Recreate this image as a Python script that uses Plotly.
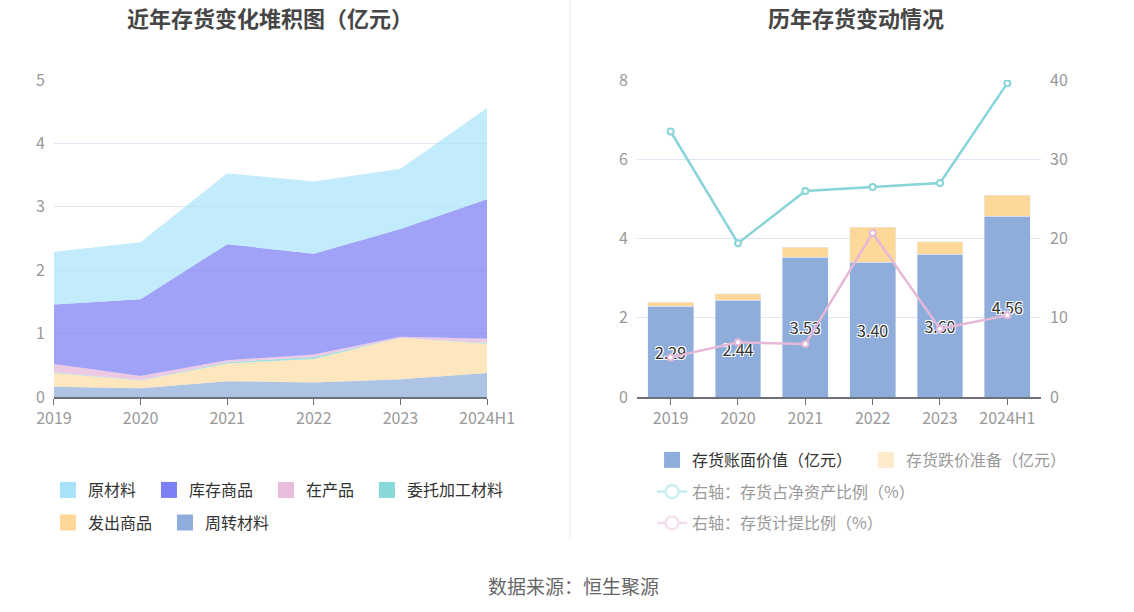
import plotly.graph_objects as go

# 数据
years = ['2019', '2020', '2021', '2022', '2023', '2024H1']

# 左图：存货构成（亿元），自下而上堆积
zhouzhuan = [0.16, 0.14, 0.25, 0.23, 0.28, 0.38]    # 周转材料
fachu = [0.22, 0.12, 0.28, 0.37, 0.65, 0.46]        # 发出商品
weituo = [0.01, 0.01, 0.02, 0.03, 0.00, 0.01]       # 委托加工材料
zaichan = [0.13, 0.06, 0.03, 0.04, 0.02, 0.07]      # 在产品
kucun = [0.94, 1.21, 1.83, 1.59, 1.70, 2.20]        # 库存商品
yuancailiao = [0.83, 0.90, 1.12, 1.14, 0.95, 1.44]  # 原材料

# 右图
book_value = [2.29, 2.44, 3.53, 3.40, 3.60, 4.56]   # 存货账面价值（亿元）
provision = [0.10, 0.17, 0.25, 0.89, 0.32, 0.53]    # 存货跌价准备（亿元）
net_asset_ratio = [33.5, 19.4, 26.0, 26.5, 27.0, 39.6]  # 存货占净资产比例（%）
provision_ratio = [5.0, 6.9, 6.7, 20.7, 8.6, 10.3]      # 存货计提比例（%）

FONT = 'Noto Sans CJK SC'
AXIS_GRAY = '#999999'
GRID = '#e0e6f1'
LINE_GRAY = '#6e7079'
LEGEND_SIZE = 16

fig = go.Figure()

# 左图堆积面积（自下而上）
areas = [
    ('周转材料', zhouzhuan, 'rgba(142,173,219,0.72)', '#8eaddb'),
    ('发出商品', fachu, 'rgba(253,216,152,0.62)', '#ffd898'),
    ('委托加工材料', weituo, 'rgba(136,216,216,0.8)', '#88d8d8'),
    ('在产品', zaichan, 'rgba(232,188,220,0.8)', '#e8bcdc'),
    ('库存商品', kucun, 'rgba(123,126,245,0.72)', '#7b7ef5'),
    ('原材料', yuancailiao, 'rgba(168,226,250,0.7)', '#a8e2fa'),
]
for name, vals, fill, _ in areas:
    fig.add_trace(go.Scatter(
        x=years, y=vals, name=name, mode='lines', stackgroup='one',
        line=dict(width=0), fillcolor=fill, showlegend=False,
        xaxis='x', yaxis='y', hoverinfo='x+y+name'
    ))

# 左图图例（两行）
legend_rows = {'原材料': 'legend', '库存商品': 'legend', '在产品': 'legend',
               '委托加工材料': 'legend', '发出商品': 'legend2', '周转材料': 'legend2'}
legend_order = ['原材料', '库存商品', '在产品', '委托加工材料', '发出商品', '周转材料']
colors = {name: c for name, _, _, c in areas}


def swatch(name, color, legend, xa, ya):
    return go.Scatter(
        x=[None], y=[None], name=name, mode='markers',
        marker=dict(symbol='square', size=16, color=color),
        legend=legend, xaxis=xa, yaxis=ya,
        legendwidth=LEGEND_SIZE * len(name) + 8
    )


for name in legend_order:
    fig.add_trace(swatch(name, colors[name], legend_rows[name], 'x', 'y'))

# 右图柱状
fig.add_trace(go.Bar(
    x=years, y=book_value, name='存货账面价值（亿元）', marker_color='#8eaddb',
    width=0.68, xaxis='x2', yaxis='y2', showlegend=False,
    text=[f'{v:.2f}' for v in book_value], textposition='inside',
    insidetextanchor='middle', textangle=0,
    textfont=dict(size=16, color='#333333', family=FONT,
                  shadow='-1px -1px 0 #fff, 1px -1px 0 #fff, -1px 1px 0 #fff, 1px 1px 0 #fff')
))
fig.add_trace(go.Bar(
    x=years, y=provision, name='存货跌价准备（亿元）', marker_color='#fdd898',
    width=0.68, xaxis='x2', yaxis='y2', showlegend=False
))
fig.add_trace(go.Scatter(
    x=years, y=net_asset_ratio, name='右轴：存货占净资产比例（%）', mode='lines+markers',
    line=dict(color='#88d4d8', width=2.5),
    marker=dict(symbol='circle', size=6, color='white', line=dict(color='#88d4d8', width=2)),
    xaxis='x2', yaxis='y3', showlegend=False
))
fig.add_trace(go.Scatter(
    x=years, y=provision_ratio, name='右轴：存货计提比例（%）', mode='lines+markers',
    line=dict(color='#e6b8d8', width=2.5),
    marker=dict(symbol='circle', size=6, color='white', line=dict(color='#e6b8d8', width=2)),
    xaxis='x2', yaxis='y3', showlegend=False
))

# 右图图例
fig.add_trace(swatch('存货账面价值（亿元）', '#8eaddb', 'legend3', 'x2', 'y2'))
fig.add_trace(swatch('存货跌价准备（亿元）', '#ffeccc', 'legend4', 'x2', 'y2'))
fig.add_trace(go.Scatter(x=[None], y=[None], name='右轴：存货占净资产比例（%）', mode='lines+markers',
                         line=dict(color='#c4ecee', width=2.5),
                         marker=dict(size=13, color='white', line=dict(color='#c4ecee', width=2)),
                         xaxis='x2', yaxis='y3', legend='legend5'))
fig.add_trace(go.Scatter(x=[None], y=[None], name='右轴：存货计提比例（%）', mode='lines+markers',
                         line=dict(color='#f4dcec', width=2.5),
                         marker=dict(size=13, color='white', line=dict(color='#f4dcec', width=2)),
                         xaxis='x2', yaxis='y3', legend='legend6'))

tick_font = dict(size=16, color=AXIS_GRAY, family=FONT)


def legend_box(x, y, color):
    return dict(orientation='h', x=x, y=y, xanchor='left', yanchor='middle',
                font=dict(size=LEGEND_SIZE, color=color, family=FONT), traceorder='normal',
                bgcolor='rgba(0,0,0,0)', itemwidth=30, tracegroupgap=0)


fig.update_layout(
    width=1134, height=612,
    margin=dict(l=0, r=0, t=0, b=0, autoexpand=False),
    paper_bgcolor='white', plot_bgcolor='white',
    font=dict(family=FONT),
    barmode='stack',
    showlegend=True,
    xaxis=dict(domain=[0.0476, 0.4295], type='category', range=[0, 5],
               showline=True, linecolor=LINE_GRAY, linewidth=1.5,
               ticks='outside', ticklen=6, tickcolor=LINE_GRAY,
               showgrid=False, tickfont=tick_font, anchor='y', fixedrange=True),
    yaxis=dict(domain=[0.3513, 0.8693], range=[0, 5], dtick=1,
               showgrid=True, gridcolor=GRID, zeroline=False, ticklabelstandoff=8,
               tickfont=tick_font, anchor='x', ticks='', fixedrange=True),
    xaxis2=dict(domain=[0.5617, 0.918], type='category', range=[-0.5, 5.5],
                showline=True, linecolor=LINE_GRAY, linewidth=1.5,
                ticks='outside', ticklen=6, tickcolor=LINE_GRAY,
                showgrid=False, tickfont=tick_font, anchor='y2', fixedrange=True),
    yaxis2=dict(domain=[0.3513, 0.8693], range=[0, 8], dtick=2,
                showgrid=True, gridcolor=GRID, zeroline=False, ticklabelstandoff=8,
                tickfont=tick_font, anchor='x2', fixedrange=True),
    yaxis3=dict(range=[0, 40], dtick=10, overlaying='y2', side='right', anchor='x2',
                showgrid=False, zeroline=False, ticklabelstandoff=8,
                tickfont=tick_font, fixedrange=True),
    legend=legend_box(0.0423, 0.1993, '#333333'),
    legend2=legend_box(0.0423, 0.1459, '#333333'),
    legend3=legend_box(0.575, 0.2484, '#333333'),
    legend4=legend_box(0.7637, 0.2484, AXIS_GRAY),
    legend5=legend_box(0.575, 0.1966, AXIS_GRAY),
    legend6=legend_box(0.575, 0.1454, AXIS_GRAY),
    shapes=[dict(type='line', xref='paper', yref='paper', x0=0.5026, x1=0.5026,
                 y0=0.1176, y1=1, line=dict(color='#eeeeee', width=1))],
    annotations=[
        dict(text='<b>近年存货变化堆积图（亿元）</b>', x=0.2381, y=0.9722, xref='paper', yref='paper',
             xanchor='center', yanchor='middle', showarrow=False,
             font=dict(size=22, color='#464646', family=FONT)),
        dict(text='<b>历年存货变动情况</b>', x=0.7549, y=0.9722, xref='paper', yref='paper',
             xanchor='center', yanchor='middle', showarrow=False,
             font=dict(size=22, color='#464646', family=FONT)),
        dict(text='数据来源：恒生聚源', x=0.5053, y=0.0425, xref='paper', yref='paper',
             xanchor='center', yanchor='middle', showarrow=False,
             font=dict(size=19, color='#666666', family=FONT)),
    ],
)

# 去掉页面 body 的默认边距，让图从窗口左上角开始；隐藏工具栏
fig.write_html("out.html", config={'displayModeBar': False},
               post_script="document.body.style.margin = '0';")
